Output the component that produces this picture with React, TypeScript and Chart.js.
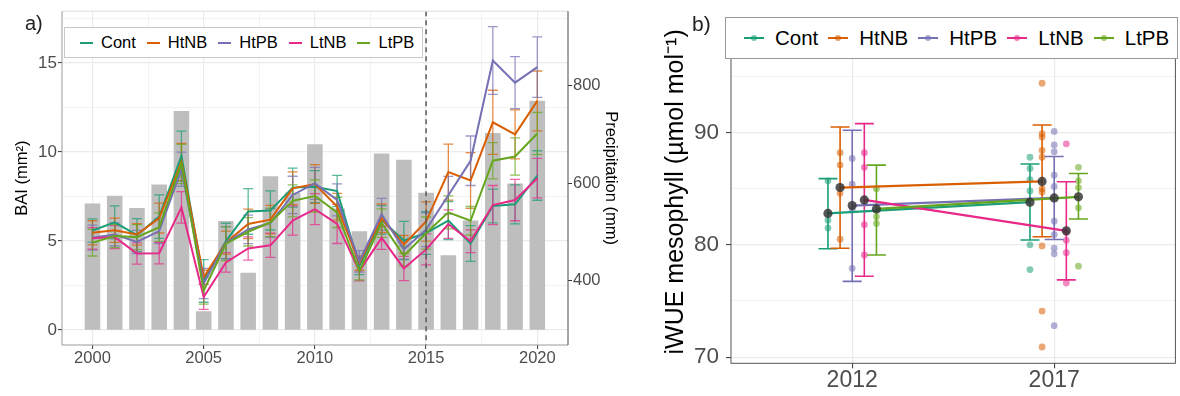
import React, { useEffect, useRef } from 'react';
import { Chart, registerables } from 'chart.js';

Chart.register(...registerables);

// ---------- Panel a) data ----------
const years = [2000, 2001, 2002, 2003, 2004, 2005, 2006, 2007, 2008, 2009, 2010, 2011, 2012, 2013, 2014, 2015, 2016, 2017, 2018, 2019, 2020];
const precipitation = [558, 574, 549, 597, 748, 337, 522, 416, 614, 580, 680, 548, 501, 661, 648, 580, 452, 523, 703, 599, 769];
const groups = ['Cont', 'HtNB', 'HtPB', 'LtNB', 'LtPB'];
const baiCont = [5.58, 6.04, 5.32, 6.36, 9.76, 2.75, 4.99, 6.65, 6.71, 7.99, 8.04, 7.8, 3.6, 6.18, 5.02, 5.44, 6.14, 4.85, 6.96, 7.05, 8.67];
const baiHtNB = [5.45, 5.6, 5.36, 6.28, 9.43, 2.95, 4.9, 5.95, 6.19, 7.95, 8.19, 6.92, 3.75, 6.27, 4.8, 6.09, 8.86, 8.39, 11.66, 10.98, 12.86];
const baiHtPB = [5.18, 5.36, 4.94, 5.55, 9.02, 2.6, 4.9, 5.64, 6.0, 7.58, 8.23, 7.3, 3.85, 6.49, 4.52, 5.63, 7.56, 9.5, 15.13, 13.89, 14.76];
const baiLtNB = [5.14, 5.21, 4.29, 4.31, 6.88, 1.85, 3.79, 4.57, 4.75, 6.14, 6.78, 5.95, 3.3, 5.17, 3.45, 4.52, 5.94, 4.98, 7.01, 7.29, 8.52];
const baiLtPB = [4.9, 5.27, 5.21, 5.77, 9.32, 2.2, 4.84, 5.51, 6.04, 7.25, 7.52, 6.6, 3.3, 6.0, 4.15, 5.44, 6.6, 6.13, 9.5, 9.74, 11.03];
const seCont = [0.65, 0.93, 0.93, 1.22, 1.4, 1.2, 1.0, 1.28, 1.1, 1.1, 0.9, 0.88, 0.5, 0.8, 1.07, 1.2, 1.07, 1.0, 0.95, 1.1, 1.39];
const seHtNB = [0.68, 0.68, 0.6, 0.84, 1.05, 0.4, 0.65, 0.83, 0.8, 0.92, 1.09, 0.75, 0.4, 0.8, 0.5, 1.1, 1.57, 1.57, 1.8, 1.38, 1.68];
const seHtPB = [0.7, 0.65, 0.65, 0.7, 0.96, 0.85, 0.9, 0.8, 0.8, 1.05, 0.9, 0.9, 0.6, 0.9, 0.55, 0.95, 1.06, 1.39, 1.9, 1.46, 1.7];
const seLtNB = [0.6, 0.65, 0.6, 0.6, 0.88, 0.7, 0.55, 0.65, 0.68, 0.82, 0.87, 1.1, 0.55, 0.65, 0.68, 0.87, 0.8, 0.64, 1.1, 1.16, 1.11];
const seLtPB = [0.75, 0.65, 0.7, 0.8, 1.1, 0.75, 0.95, 0.8, 0.8, 0.9, 0.9, 0.85, 0.5, 0.8, 0.55, 0.9, 0.93, 0.8, 1.02, 1.05, 1.18];
const yearTicks = [2000, 2005, 2010, 2015, 2020];
const baiTicks = [0, 5, 10, 15];
const precipTicks = [400, 600, 800];
const treatmentYear = 2015;
// secondary axis transform: precipitation = precipAtZero + precipPerBAI * BAI
const precipAtZero = 298.7;
const precipPerBAI = 36.55;

// ---------- Panel b) data ----------
const wueYears = ['2012', '2017'];
const wueTicks = [70, 80, 90];
const wueMean2012 = [82.8, 85.1, 83.5, 84.0, 83.2];
const wueMean2017 = [83.8, 85.65, 84.18, 81.25, 84.28];
const wueLow2012 = [79.65, 79.7, 76.75, 77.2, 79.1];
const wueHigh2012 = [85.9, 90.5, 90.2, 90.8, 87.1];
const wueLow2017 = [80.43, 80.72, 80.48, 76.88, 82.3];
const wueHigh2017 = [87.2, 90.67, 87.87, 85.62, 86.35];
const wueTrees2012 = [
  [85.7, 82.2, 81.5],
  [88.2, 87.1, 84.6, 80.5],
  [87.7, 85.4, 83.1, 77.9],
  [88.2, 86.9, 81.8, 79.1],
  [85.0, 82.5, 81.9],
];
const wueTrees2017 = [
  [87.8, 86.8, 85.8, 84.8, 80.0, 77.8],
  [94.4, 89.9, 89.6, 88.4, 87.8, 85.0, 84.7, 79.9, 74.1, 70.9],
  [90.1, 88.9, 88.3, 86.2, 85.2, 82.1, 80.9, 79.7, 79.2, 72.8],
  [89.0, 81.1, 80.4, 79.3, 76.6],
  [86.9, 85.7, 85.1, 83.3, 78.1],
];

// ---------- styling ----------
const palette = ['#1B9E77', '#D95F02', '#7570B3', '#E7298A', '#66A61E'];
const dodge = [-0.12, -0.06, 0, 0.06, 0.12];
const FONT = "'Liberation Sans', Arial, Helvetica, sans-serif";

const baiSeries = [baiCont, baiHtNB, baiHtPB, baiLtNB, baiLtPB];
const seSeries = [seCont, seHtNB, seHtPB, seLtNB, seLtPB];

function rgba(hex: string, a: number) {
  const n = parseInt(hex.slice(1), 16);
  return `rgba(${(n >> 16) & 255},${(n >> 8) & 255},${n & 255},${a})`;
}
function isMajor(v: number, majors: number[]) {
  return majors.some((m) => Math.abs(m - v) < 1e-6);
}
function withMinors(majors: number[], lo: number, hi: number) {
  const step = majors[1] - majors[0];
  const out: number[] = [];
  for (let v = majors[0] - step / 2; v <= majors[majors.length - 1] + step / 2 + 1e-9; v += step / 2) {
    if (v >= lo - 1e-9 && v <= hi + 1e-9) out.push(Math.round(v * 1000) / 1000);
  }
  return out;
}
function gridCfg(majors: number[], tickLength: number) {
  return {
    color: '#EBEBEB',
    lineWidth: (c: any) => (c.tick && isMajor(c.tick.value, majors) ? 1.2 : 0.6),
    tickColor: (c: any) => (c.tick && isMajor(c.tick.value, majors) ? '#333333' : 'rgba(0,0,0,0)'),
    tickWidth: 1,
    tickLength,
    drawTicks: true,
    offset: false,
  };
}

const X_MIN = 1998.63, X_MAX = 2021.38;
const Y_MIN = -0.85, Y_MAX = 17.9;
const W_MIN = 69.45, W_MAX = 99.98;

const baiPlugin = {
  id: 'baiOverlay',
  afterDatasetDraw(chart: any, args: any) {
    if (args.index !== 0) return;
    const { ctx } = chart;
    const x = chart.scales.x, y = chart.scales.y;
    ctx.save();
    ctx.lineWidth = 1.3;
    baiSeries.forEach((vals, gi) => {
      ctx.strokeStyle = rgba(palette[gi], 0.72);
      ctx.beginPath();
      years.forEach((yr, i) => {
        const px = x.getPixelForValue(yr);
        const xl = x.getPixelForValue(yr - 0.225);
        const xr = x.getPixelForValue(yr + 0.225);
        const yt = y.getPixelForValue(vals[i] + seSeries[gi][i]);
        const yb = y.getPixelForValue(vals[i] - seSeries[gi][i]);
        ctx.moveTo(px, yt); ctx.lineTo(px, yb);
        ctx.moveTo(xl, yt); ctx.lineTo(xr, yt);
        ctx.moveTo(xl, yb); ctx.lineTo(xr, yb);
      });
      ctx.stroke();
    });
    ctx.restore();
  },
  afterDatasetsDraw(chart: any) {
    const { ctx, chartArea: a } = chart;
    const x = chart.scales.x;
    ctx.save();
    const dx = x.getPixelForValue(treatmentYear);
    ctx.strokeStyle = '#5a5a5a';
    ctx.lineWidth = 1.5;
    ctx.setLineDash([5, 4]);
    ctx.beginPath(); ctx.moveTo(dx, a.top); ctx.lineTo(dx, a.bottom); ctx.stroke();
    ctx.setLineDash([]);
    ctx.lineWidth = 1;
    const seg = (c: string, x1: number, y1: number, x2: number, y2: number) => {
      ctx.strokeStyle = c; ctx.beginPath(); ctx.moveTo(x1, y1); ctx.lineTo(x2, y2); ctx.stroke();
    };
    seg('#dcdcdc', a.left, a.top, a.right, a.top);
    seg('#9a9a9a', a.left, a.top, a.left, a.bottom);
    seg('#9a9a9a', a.left, a.bottom, a.right, a.bottom);
    seg('#4d4d4d', a.right, a.top, a.right, a.bottom);
    ctx.restore();
  },
};

const wuePlugin = {
  id: 'wueOverlay',
  afterDatasetDraw(chart: any, args: any) {
    if (args.index !== groups.length - 1) return;
    const { ctx } = chart;
    const x = chart.scales.x, y = chart.scales.y;
    ctx.save();
    ctx.lineWidth = 1.6;
    groups.forEach((_, gi) => {
      ctx.strokeStyle = palette[gi];
      ctx.beginPath();
      [[wueLow2012, wueHigh2012], [wueLow2017, wueHigh2017]].forEach(([lo, hi], yi) => {
        const cx = yi + 1 + dodge[gi];
        const px = x.getPixelForValue(cx);
        const xl = x.getPixelForValue(cx - 0.047);
        const xr = x.getPixelForValue(cx + 0.047);
        const yt = y.getPixelForValue(hi[gi]);
        const yb = y.getPixelForValue(lo[gi]);
        ctx.moveTo(px, yt); ctx.lineTo(px, yb);
        ctx.moveTo(xl, yt); ctx.lineTo(xr, yt);
        ctx.moveTo(xl, yb); ctx.lineTo(xr, yb);
      });
      ctx.stroke();
    });
    ctx.restore();
  },
  afterDatasetsDraw(chart: any) {
    const { ctx, chartArea: a } = chart;
    ctx.save();
    ctx.strokeStyle = '#555555';
    ctx.lineWidth = 1;
    ctx.strokeRect(a.left, a.top, a.right - a.left, a.bottom - a.top);
    ctx.restore();
  },
};

function leftConfig(): any {
  const xTicks = withMinors(yearTicks, X_MIN, X_MAX);
  const yTicks = withMinors(baiTicks, Y_MIN, Y_MAX);
  return {
    type: 'bar',
    data: {
      datasets: [
        {
          type: 'bar',
          label: 'Precipitation',
          data: years.map((yr, i) => ({ x: yr, y: [precipAtZero, precipitation[i]] })),
          yAxisID: 'y2',
          backgroundColor: '#BEBEBE',
          borderWidth: 0,
          barPercentage: 0.7,
          categoryPercentage: 1,
          order: 10,
        },
        ...groups.map((g, gi) => ({
          type: 'line',
          label: g,
          data: years.map((yr, i) => ({ x: yr, y: baiSeries[gi][i] })),
          yAxisID: 'y',
          borderColor: palette[gi],
          backgroundColor: palette[gi],
          borderWidth: 2,
          pointRadius: 0,
          tension: 0,
          order: 5 - gi,
        })),
      ],
    },
    options: {
      responsive: false,
      animation: false,
      events: [],
      layout: { padding: { top: 7.3, left: 0, right: 0, bottom: 0 } },
      plugins: { legend: { display: false }, tooltip: { enabled: false } },
      scales: {
        x: {
          type: 'linear',
          min: X_MIN,
          max: X_MAX,
          offset: false,
          afterBuildTicks: (s: any) => { s.ticks = xTicks.map((v) => ({ value: v })); },
          afterFit: (s: any) => { s.height = 51; },
          ticks: {
            autoSkip: false,
            maxRotation: 0,
            padding: 0.8,
            color: '#4D4D4D',
            font: { size: 16.5, lineHeight: 1 },
            callback: (v: number) => (isMajor(v, yearTicks) ? String(v) : ''),
          },
          grid: gridCfg(yearTicks, 4),
          border: { display: false },
        },
        y: {
          type: 'linear',
          position: 'left',
          min: Y_MIN,
          max: Y_MAX,
          afterBuildTicks: (s: any) => { s.ticks = yTicks.map((v) => ({ value: v })); },
          afterFit: (s: any) => { s.width = 62; },
          ticks: {
            autoSkip: false,
            padding: 1,
            color: '#4D4D4D',
            font: { size: 17 },
            callback: (v: number) => (isMajor(v, baiTicks) ? String(v) : ''),
          },
          grid: gridCfg(baiTicks, 4),
          border: { display: false },
          title: { display: true, text: 'BAI (mm²)', color: '#000', font: { size: 16.5 }, padding: { top: 13, bottom: 0 } },
        },
        y2: {
          type: 'linear',
          position: 'right',
          min: precipAtZero + precipPerBAI * Y_MIN,
          max: precipAtZero + precipPerBAI * Y_MAX,
          afterBuildTicks: (s: any) => { s.ticks = precipTicks.map((v) => ({ value: v })); },
          afterFit: (s: any) => { s.width = 72; },
          ticks: {
            autoSkip: false,
            padding: 1,
            color: '#4D4D4D',
            font: { size: 16.5 },
            callback: (v: number) => String(v),
          },
          grid: { drawOnChartArea: false, tickColor: '#333333', tickWidth: 1, tickLength: 4, drawTicks: true },
          border: { display: false },
          title: { display: true, text: 'Precipitation (mm)', color: '#000', font: { size: 16.5 }, padding: { top: 20, bottom: 0 } },
        },
      },
    },
    plugins: [baiPlugin],
  };
}

function rightConfig(): any {
  const yTicks = withMinors(wueTicks, W_MIN, W_MAX);
  const pts = groups.map((g, gi) => ({
    type: 'scatter',
    label: g + ' trees',
    data: [
      ...wueTrees2012[gi].map((v) => ({ x: 1 + dodge[gi], y: v })),
      ...wueTrees2017[gi].map((v) => ({ x: 2 + dodge[gi], y: v })),
    ],
    backgroundColor: rgba(palette[gi], 0.55),
    borderWidth: 0,
    pointRadius: 3.4,
    order: 40 - gi,
  }));
  const lines = groups.map((g, gi) => ({
    type: 'line',
    label: g,
    data: [
      { x: 1 + dodge[gi], y: wueMean2012[gi] },
      { x: 2 + dodge[gi], y: wueMean2017[gi] },
    ],
    borderColor: palette[gi],
    borderWidth: 2.3,
    pointRadius: 0,
    order: 20 - gi,
  }));
  const means = groups.map((g, gi) => ({
    type: 'scatter',
    label: g + ' mean',
    data: [
      { x: 1 + dodge[gi], y: wueMean2012[gi] },
      { x: 2 + dodge[gi], y: wueMean2017[gi] },
    ],
    backgroundColor: 'rgba(50,50,50,0.82)',
    borderWidth: 0,
    pointRadius: 4.6,
    order: 10 - gi,
  }));
  return {
    type: 'scatter',
    data: { datasets: [...pts, ...lines, ...means] },
    options: {
      responsive: false,
      animation: false,
      events: [],
      layout: { padding: { top: 10.7, left: 0, right: 4, bottom: 0 } },
      plugins: { legend: { display: false }, tooltip: { enabled: false } },
      scales: {
        x: {
          type: 'linear',
          min: 0.4,
          max: 2.6,
          afterBuildTicks: (s: any) => { s.ticks = wueYears.map((_, i) => ({ value: i + 1 })); },
          afterFit: (s: any) => { s.height = 32.7; },
          ticks: {
            autoSkip: false,
            maxRotation: 0,
            padding: 1.2,
            color: '#4D4D4D',
            font: { size: 23, lineHeight: 1 },
            callback: (v: number) => wueYears[Math.round(v) - 1] ?? '',
          },
          grid: { color: '#EBEBEB', lineWidth: 1.2, tickColor: '#333333', tickWidth: 1, tickLength: 5 },
          border: { display: false },
        },
        y: {
          type: 'linear',
          min: W_MIN,
          max: W_MAX,
          afterBuildTicks: (s: any) => { s.ticks = yTicks.map((v) => ({ value: v })); },
          afterFit: (s: any) => { s.width = 91; },
          ticks: {
            autoSkip: false,
            padding: 7,
            color: '#4D4D4D',
            font: { size: 22.5 },
            callback: (v: number) => (isMajor(v, wueTicks) ? String(v) : ''),
          },
          grid: gridCfg(wueTicks, 5),
          border: { display: false },
          title: {
            display: true,
            text: 'iWUE mesophyll (µmol mol⁻¹)',
            color: '#000',
            font: { size: 25 },
            padding: { top: 21, bottom: 0 },
          },
        },
      },
    },
    plugins: [wuePlugin],
  };
}

function LeftLegend() {
  return (
    <div
      style={{
        position: 'absolute', left: 64, top: 27, width: 359, height: 31, boxSizing: 'border-box',
        border: '1px solid #c8c8c8', background: '#fff', display: 'flex', alignItems: 'center',
        paddingLeft: 15, fontSize: 16.5, color: '#000', fontFamily: FONT,
      }}
    >
      {groups.map((g, gi) => (
        <div key={g} style={{ display: 'flex', alignItems: 'center', marginRight: 11 }}>
          <span style={{ display: 'inline-block', width: 13, height: 2, background: palette[gi], marginRight: 8 }} />
          <span>{g}</span>
        </div>
      ))}
    </div>
  );
}

function RightLegend() {
  return (
    <div
      style={{
        position: 'absolute', left: 725, top: 17, width: 453, height: 42, boxSizing: 'border-box',
        border: '1px solid #999', background: '#fff', display: 'flex', alignItems: 'center',
        paddingLeft: 18, fontSize: 20.5, color: '#000', fontFamily: FONT,
      }}
    >
      {groups.map((g, gi) => (
        <div key={g} style={{ display: 'flex', alignItems: 'center', marginRight: 10 }}>
          <span style={{ position: 'relative', display: 'inline-block', width: 20, height: 10, marginRight: 11 }}>
            <span style={{ position: 'absolute', left: 0, top: 4, width: 20, height: 2, background: palette[gi] }} />
            <span style={{ position: 'absolute', left: 7, top: 2, width: 6, height: 6, borderRadius: '50%', background: rgba(palette[gi], 0.6) }} />
          </span>
          <span>{g}</span>
        </div>
      ))}
    </div>
  );
}

export default function App() {
  const leftRef = useRef<HTMLCanvasElement>(null);
  const rightRef = useRef<HTMLCanvasElement>(null);

  useEffect(() => {
    Chart.defaults.font.family = FONT;
    const l = new Chart(leftRef.current as HTMLCanvasElement, leftConfig());
    const r = new Chart(rightRef.current as HTMLCanvasElement, rightConfig());
    return () => {
      l.destroy();
      r.destroy();
    };
  }, []);

  return (
    <div style={{ position: 'absolute', left: 0, top: 0, width: 1180, height: 396, background: '#fff', overflow: 'hidden', fontFamily: FONT }}>
      <canvas ref={leftRef} width={640} height={396} style={{ position: 'absolute', left: 0, top: 0, width: 640, height: 396 }} />
      <canvas ref={rightRef} width={540} height={396} style={{ position: 'absolute', left: 640, top: 0, width: 540, height: 396 }} />
      <LeftLegend />
      <RightLegend />
      <div style={{ position: 'absolute', left: 25, top: 10.6, fontSize: 20, lineHeight: '24px', color: '#222' }}>a)</div>
      <div style={{ position: 'absolute', left: 692, top: 12, fontSize: 21, lineHeight: '24px', color: '#222' }}>b)</div>
    </div>
  );
}
